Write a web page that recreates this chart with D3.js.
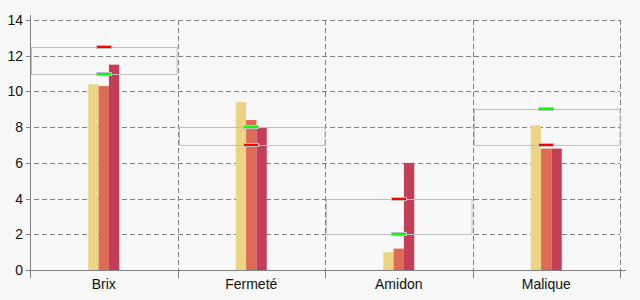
<!DOCTYPE html>
<head>
    <meta charset="utf-8">
    <style>
    body {
        margin: 0;
        background-color: #f8f8f8;
        font-family: "Liberation Sans", Arial, sans-serif;
    }
    .grid line {
        stroke: #808080;
        stroke-dasharray: 5, 3;
    }
    .axis-line {
        stroke: #808080;
    }
    .range-box {
        fill: none;
        stroke: #c0c0c0;
    }
    .marker {
        stroke: #c0c0c0;
    }
    text {
        font-size: 14px;
        fill: #111;
    }
    </style>
</head>
<body>
    <svg id="chart" width="640" height="300"></svg>
    <script src="https://d3js.org/d3.v7.min.js"></script>
    <script>
    var categories = ["Brix", "Fermeté", "Amidon", "Malique"];
    var series1 = [10.4, 9.4, 1.0, 8.1];
    var series2 = [10.3, 8.4, 1.2, 6.8];
    var series3 = [11.5, 7.95, 6.0, 6.8];
    var rangeLow = [11, 7, 2, 7];
    var rangeHigh = [12.5, 8, 4, 9];
    var greenMark = [11, 8, 2, 9];
    var redMark = [12.5, 7, 4, 7];
    var yTicks = [0, 2, 4, 6, 8, 10, 12, 14];
    var colors = ["#edd384", "#de6b56", "#c43e58"];

    var svg = d3.select("#chart");

    var x = d3.scaleBand()
        .domain(categories)
        .range([30, 620])
        .padding(0);

    var y = d3.scaleLinear()
        .domain([0, 14])
        .range([270, 20]);

    var sub = d3.scaleBand()
        .domain([0, 1, 2])
        .range([-15.5, 15.5]);

    // horizontal dashed gridlines
    svg.append("g")
        .attr("class", "grid")
        .selectAll("line")
        .data(yTicks.filter(function(d) { return d > 0; }))
        .enter().append("line")
        .attr("x1", 26)
        .attr("x2", 620)
        .attr("y1", function(d) { return Math.round(y(d)) + 0.5; })
        .attr("y2", function(d) { return Math.round(y(d)) + 0.5; });

    // vertical dashed category separators
    var bounds = categories.map(function(c) { return x(c) + x.bandwidth(); });
    svg.append("g")
        .attr("class", "grid")
        .selectAll("line")
        .data(bounds)
        .enter().append("line")
        .attr("x1", function(d) { return Math.round(d) + 0.5; })
        .attr("x2", function(d) { return Math.round(d) + 0.5; })
        .attr("y1", y(14))
        .attr("y2", y(0));

    // bars
    var seriesData = [series1, series2, series3];
    var bars = svg.append("g");
    seriesData.forEach(function(vals, si) {
        bars.selectAll(null)
            .data(vals)
            .enter().append("rect")
            .attr("x", function(d, i) { return x(categories[i]) + x.bandwidth() / 2 + sub(si); })
            .attr("width", sub.bandwidth())
            .attr("y", function(d) { return y(d); })
            .attr("height", function(d) { return y(0) - y(d); })
            .attr("fill", colors[si]);
    });

    // range boxes
    svg.append("g")
        .selectAll("rect")
        .data(categories)
        .enter().append("rect")
        .attr("class", "range-box")
        .attr("x", function(d) { return Math.round(x(d)) + 1.5; })
        .attr("width", x.bandwidth() - 2)
        .attr("y", function(d, i) { return Math.round(y(rangeHigh[i])) + 0.5; })
        .attr("height", function(d, i) { return Math.round(y(rangeLow[i])) - Math.round(y(rangeHigh[i])); });

    // markers
    function drawMarkers(vals, fill) {
        svg.append("g")
            .selectAll("rect")
            .data(vals)
            .enter().append("rect")
            .attr("class", "marker")
            .attr("x", function(d, i) { return Math.round(x(categories[i]) + x.bandwidth() / 2) - 7.5; })
            .attr("width", 15)
            .attr("y", function(d) { return Math.round(y(d)) - 1.5; })
            .attr("height", 3)
            .attr("fill", fill);
    }
    drawMarkers(greenMark, "#00ff00");
    drawMarkers(redMark, "#ff0000");

    // axes
    svg.append("line")
        .attr("class", "axis-line")
        .attr("x1", 30.5).attr("x2", 30.5)
        .attr("y1", 15).attr("y2", 278);
    svg.append("line")
        .attr("class", "axis-line")
        .attr("x1", 26).attr("x2", 626)
        .attr("y1", 270.5).attr("y2", 270.5);
    svg.append("g")
        .selectAll("line")
        .data(bounds)
        .enter().append("line")
        .attr("class", "axis-line")
        .attr("x1", function(d) { return Math.round(d) + 0.5; })
        .attr("x2", function(d) { return Math.round(d) + 0.5; })
        .attr("y1", 270)
        .attr("y2", 278);

    // y tick labels
    svg.append("g")
        .selectAll("text")
        .data(yTicks)
        .enter().append("text")
        .attr("x", 23)
        .attr("y", function(d) { return y(d) + 5; })
        .attr("text-anchor", "end")
        .text(function(d) { return d; });

    // category labels
    svg.append("g")
        .selectAll("text")
        .data(categories)
        .enter().append("text")
        .attr("x", function(d) { return x(d) + x.bandwidth() / 2; })
        .attr("y", 289)
        .attr("text-anchor", "middle")
        .text(function(d) { return d; });
    </script>
</body>
